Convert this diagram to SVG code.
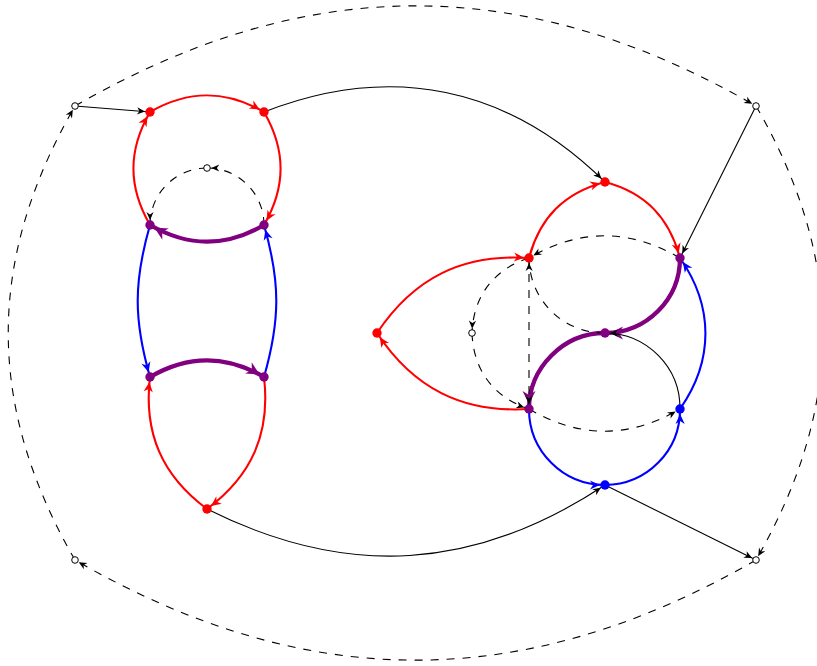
<svg xmlns="http://www.w3.org/2000/svg" width="817" height="666" viewBox="0 0 817 666">
<style>
.k{fill:none;stroke:#000;stroke-width:1.1}
.d{fill:none;stroke:#000;stroke-width:1.1;stroke-dasharray:8 8}
.r{fill:none;stroke:#f00;stroke-width:2.1}
.b{fill:none;stroke:#00f;stroke-width:2.1}
.p{fill:none;stroke:#800080;stroke-width:4.3}
.nr{fill:#f00}
.nb{fill:#00f}
.np{fill:#800080}
.no{fill:#fff;stroke:#000;stroke-width:1}
</style>
<defs>
<marker id="ak" markerUnits="userSpaceOnUse" orient="auto" overflow="visible" refX="5" refY="0" markerWidth="10" markerHeight="10"><path d="M0,0 L-8,-3.6 L-5.6,0 L-8,3.6 Z" fill="#000"/></marker>
<marker id="ako" markerUnits="userSpaceOnUse" orient="auto" overflow="visible" refX="4.3" refY="0" markerWidth="10" markerHeight="10"><path d="M0,0 L-8,-3.6 L-5.6,0 L-8,3.6 Z" fill="#000"/></marker>
<marker id="ar" markerUnits="userSpaceOnUse" orient="auto" overflow="visible" refX="5" refY="0" markerWidth="10" markerHeight="10"><path d="M0,0 L-10,-4.6 L-7,0 L-10,4.6 Z" fill="#f00"/></marker>
<marker id="ab" markerUnits="userSpaceOnUse" orient="auto" overflow="visible" refX="5" refY="0" markerWidth="10" markerHeight="10"><path d="M0,0 L-10,-4.6 L-7,0 L-10,4.6 Z" fill="#00f"/></marker>
<marker id="ap" markerUnits="userSpaceOnUse" orient="auto" overflow="visible" refX="5" refY="0" markerWidth="10" markerHeight="10"><path d="M0,0 L-13,-6.5 L-9,0 L-13,6.5 Z" fill="#800080"/></marker>
</defs>
<g id="connectors">
<path class="d" d="M75,106 C305.9,-27.5 525.1,-27.5 756,106" marker-end="url(#ako)"/>
<path class="d" d="M756,106 C845,259.9 845,406.1 756,560" marker-end="url(#ako)"/>
<path class="d" d="M756,560 C525.1,693.5 305.9,693.5 75,560" marker-end="url(#ako)"/>
<path class="d" d="M75,560 C-14,406.1 -14,259.9 75,106" marker-end="url(#ako)"/>
<path class="k" d="M75,106 L150,112" marker-end="url(#ak)"/>
<path class="r" d="M150,112 C188.6,89.7 225.4,89.7 264,112" marker-end="url(#ar)"/>
<path class="r" d="M264,112 C286.1,150.3 286.1,186.7 264,225" marker-end="url(#ar)"/>
<path class="r" d="M150,225 C127.9,186.7 127.9,150.3 150,112" marker-end="url(#ar)"/>
<path class="p" d="M264,225 C225.4,247.3 188.6,247.3 150,225" marker-end="url(#ap)"/>
<path class="d" d="M264,225 C264,193.5 238.5,168 207,168" marker-end="url(#ako)"/>
<path class="d" d="M207,168 C175.5,168 150,193.5 150,225" marker-end="url(#ak)"/>
<path class="b" d="M150,225 C133.6,282.2 133.6,319.8 150,377" marker-end="url(#ab)"/>
<path class="b" d="M264,377 C280.4,319.8 280.4,282.2 264,225" marker-end="url(#ab)"/>
<path class="p" d="M150,377 C188.6,354.7 225.4,354.7 264,377" marker-end="url(#ap)"/>
<path class="r" d="M264,377 C270.6,432.9 252.2,475.4 207,509" marker-end="url(#ar)"/>
<path class="r" d="M207,509 C161.8,475.4 143.4,432.9 150,377" marker-end="url(#ar)"/>
<path class="k" d="M264,112 C390.9,62.3 507.9,86.3 605,182" marker-end="url(#ak)"/>
<path class="k" d="M207,509 C346.6,578.9 474.8,571.1 605,485" marker-end="url(#ak)"/>
<path class="r" d="M529,258 C539.9,217.3 564.3,192.9 605,182" marker-end="url(#ar)"/>
<path class="r" d="M605,182 C645.5,192.8 669.2,217.5 680,258" marker-end="url(#ar)"/>
<path class="k" d="M756,106 L680,258" marker-end="url(#ak)"/>
<path class="d" d="M680,258 C628.8,228.4 580.2,228.4 529,258" marker-end="url(#ak)"/>
<path class="p" d="M680,258 C680,299.5 646.5,333 605,333" marker-end="url(#ap)"/>
<path class="p" d="M605,333 C563.5,333 529,367.5 529,409" marker-end="url(#ap)"/>
<path class="b" d="M680,409 C713.9,360.6 713.9,306.4 680,258" marker-end="url(#ab)"/>
<path class="k" d="M680,409 C680.3,367.2 646.8,333.3 605,333" marker-end="url(#ak)"/>
<path class="d" d="M605,333 C563.1,333.3 529.3,299.9 529,258" marker-end="url(#ak)"/>
<path class="d" d="M529,258 L529,409" marker-end="url(#ak)"/>
<path class="d" d="M529,258 C493.8,269.2 473.4,296.2 472,333" marker-end="url(#ako)"/>
<path class="d" d="M472,333 C473.3,370.2 493.7,397.4 529,409" marker-end="url(#ak)"/>
<path class="r" d="M529,409 C462.6,413.1 413.6,388.5 377,333" marker-end="url(#ar)"/>
<path class="r" d="M377,333 C413.9,277.8 462.7,253.6 529,258" marker-end="url(#ar)"/>
<path class="d" d="M529,409 C580.2,438.6 628.8,438.6 680,409" marker-end="url(#ak)"/>
<path class="b" d="M529,409 C529,451.1 562.9,485 605,485" marker-end="url(#ab)"/>
<path class="b" d="M605,485 C646.9,484.7 680.3,450.9 680,409" marker-end="url(#ab)"/>
<path class="k" d="M605,485 L756,560" marker-end="url(#ako)"/>
</g>
<g id="nodes">
<g id="o1"><circle class="no" cx="75" cy="106" r="3.3"/></g>
<g id="o2"><circle class="no" cx="756" cy="106" r="3.3"/></g>
<g id="o3"><circle class="no" cx="756" cy="560" r="3.3"/></g>
<g id="o4"><circle class="no" cx="75" cy="560" r="3.3"/></g>
<g id="a"><circle class="nr" cx="150" cy="112" r="4.7"/></g>
<g id="b"><circle class="nr" cx="264" cy="112" r="4.7"/></g>
<g id="c"><circle class="np" cx="150" cy="225" r="4.7"/></g>
<g id="d"><circle class="np" cx="264" cy="225" r="4.7"/></g>
<g id="e"><circle class="no" cx="207" cy="168" r="3.3"/></g>
<g id="f"><circle class="np" cx="150" cy="377" r="4.7"/></g>
<g id="g"><circle class="np" cx="264" cy="377" r="4.7"/></g>
<g id="h"><circle class="nr" cx="207" cy="509" r="4.7"/></g>
<g id="p"><circle class="nr" cx="605" cy="182" r="4.7"/></g>
<g id="q"><circle class="nr" cx="529" cy="258" r="4.7"/></g>
<g id="r"><circle class="np" cx="680" cy="258" r="4.7"/></g>
<g id="s"><circle class="nr" cx="377" cy="333" r="4.7"/></g>
<g id="t"><circle class="no" cx="472" cy="333" r="3.3"/></g>
<g id="u"><circle class="np" cx="605" cy="333" r="4.7"/></g>
<g id="v"><circle class="np" cx="529" cy="409" r="4.7"/></g>
<g id="w"><circle class="nb" cx="680" cy="409" r="4.7"/></g>
<g id="x"><circle class="nb" cx="605" cy="485" r="4.7"/></g>
</g>
</svg>
